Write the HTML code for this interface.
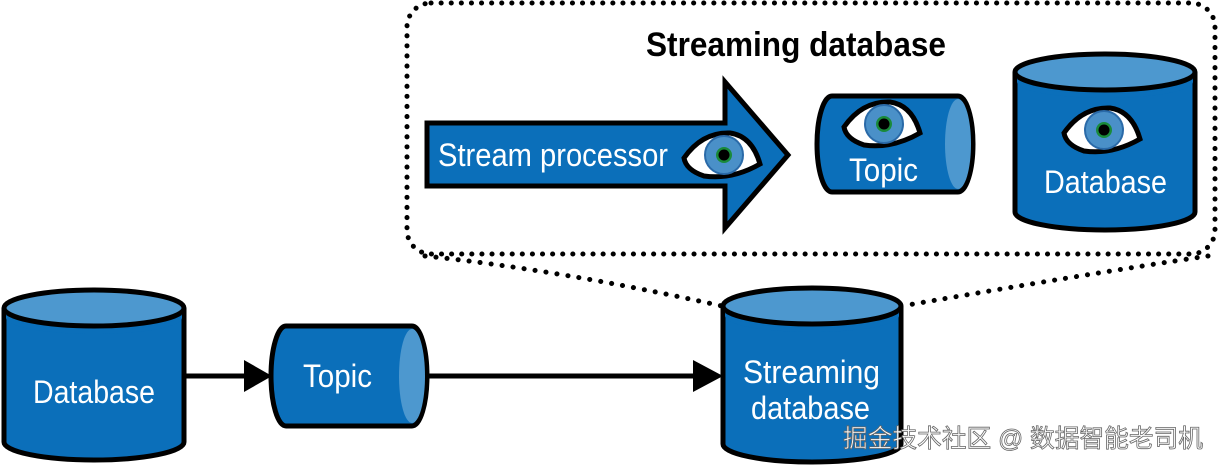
<!DOCTYPE html>
<html><head><meta charset="utf-8"><style>
html,body{margin:0;padding:0;background:#fff;}
svg{display:block;}
text{font-family:"Liberation Sans",sans-serif;}
</style></head><body>
<svg width="1219" height="467" viewBox="0 0 1219 467">
<defs>
<g id="eye">
<path d="M-38,2 Q-20,-24 8,-23 Q30,-20 38,8 Q10,24 -18,20 Q-36,14 -38,2Z" fill="#fff" stroke="#000" stroke-width="5"/>
<circle cx="2" cy="-1" r="19" fill="#4a90c8" stroke="#2a6aa8" stroke-width="2"/>
<circle cx="2" cy="-1" r="8" fill="#1a8a3a"/>
<circle cx="2" cy="-1" r="5.5" fill="#000"/>
</g>
</defs>
<!-- dotted box -->
<rect x="407" y="3" width="808" height="251" rx="24" fill="none" stroke="#000" stroke-width="5" stroke-linecap="round" stroke-dasharray="0.1 10"/>
<path d="M425,256 Q560,270 722,306" fill="none" stroke="#000" stroke-width="5" stroke-linecap="round" stroke-dasharray="0.1 11"/>
<path d="M1208,256 Q1080,275 902,306" fill="none" stroke="#000" stroke-width="5" stroke-linecap="round" stroke-dasharray="0.1 11"/>
<text x="646" y="56" textLength="300" lengthAdjust="spacingAndGlyphs" font-size="34" font-weight="bold">Streaming database</text>
<!-- stream processor arrow -->
<path d="M427,123 L725,123 L725,82 L788,155 L725,228 L725,186 L427,186Z" fill="#0b6fba" stroke="#000" stroke-width="5" stroke-linejoin="miter"/>
<text x="438" y="166" textLength="230" lengthAdjust="spacingAndGlyphs" font-size="32" fill="#fff">Stream processor</text>
<use href="#eye" x="722" y="156"/>
<!-- top topic -->
<path d="M832,96 L958,96 A15,48 0 0 1 958,192 L832,192 A15,48 0 0 1 832,96Z" fill="#0b6fba" stroke="#000" stroke-width="5"/>
<ellipse cx="958" cy="144" rx="13" ry="45" fill="#4d98cf"/>
<use href="#eye" x="882" y="125"/>
<text x="849" y="181" textLength="69" lengthAdjust="spacingAndGlyphs" font-size="32" fill="#fff">Topic</text>
<!-- top database -->
<path d="M1015,72 L1015,212 A90,18 0 0 0 1195,212 L1195,72" fill="#0b6fba" stroke="#000" stroke-width="5"/>
<ellipse cx="1105" cy="72" rx="90" ry="18" fill="#4d98cf" stroke="#000" stroke-width="5"/>
<path d="M1017,78 A88,16 0 0 0 1193,78 L1193,82 A88,16 0 0 1 1017,82Z" fill="#0b6fba"/>
<use href="#eye" x="1102" y="131"/>
<text x="1044" y="193" textLength="123" lengthAdjust="spacingAndGlyphs" font-size="32" fill="#fff">Database</text>
<!-- bottom left database -->
<path d="M4,308 L4,442 A90,18 0 0 0 184,442 L184,308" fill="#0b6fba" stroke="#000" stroke-width="5"/>
<ellipse cx="94" cy="308" rx="90" ry="18" fill="#4d98cf" stroke="#000" stroke-width="5"/>
<path d="M6,314 A88,16 0 0 0 182,314 L182,318 A88,16 0 0 1 6,318Z" fill="#0b6fba"/>
<text x="33" y="403" textLength="122" lengthAdjust="spacingAndGlyphs" font-size="32" fill="#fff">Database</text>
<!-- arrows -->
<line x1="184" y1="376" x2="248" y2="376" stroke="#000" stroke-width="5"/>
<path d="M244,360 L272,376 L244,392Z" fill="#000"/>
<line x1="427" y1="376" x2="697" y2="376" stroke="#000" stroke-width="5"/>
<path d="M693,360 L723,376 L693,392Z" fill="#000"/>
<!-- bottom topic -->
<path d="M286,326 L412,326 A15,50 0 0 1 412,426 L286,426 A15,50 0 0 1 286,326Z" fill="#0b6fba" stroke="#000" stroke-width="5"/>
<ellipse cx="412" cy="376" rx="13" ry="47" fill="#4d98cf"/>
<text x="303" y="387" textLength="69" lengthAdjust="spacingAndGlyphs" font-size="32" fill="#fff">Topic</text>
<!-- streaming database -->
<path d="M723,306 L723,444 A89,18 0 0 0 901,444 L901,306" fill="#0b6fba" stroke="#000" stroke-width="5"/>
<ellipse cx="812" cy="306" rx="89" ry="18" fill="#4d98cf" stroke="#000" stroke-width="5"/>
<path d="M725,312 A87,16 0 0 0 899,312 L899,316 A87,16 0 0 1 725,316Z" fill="#0b6fba"/>
<text x="743" y="383" textLength="137" lengthAdjust="spacingAndGlyphs" font-size="32" fill="#fff">Streaming</text>
<text x="751" y="419" textLength="119" lengthAdjust="spacingAndGlyphs" font-size="32" fill="#fff">database</text>
<text x="843" y="447" textLength="360" lengthAdjust="spacingAndGlyphs" font-size="25" fill="#fff" stroke="#666" stroke-width="0.8" style="font-family:'Liberation Sans','Noto Sans CJK SC',sans-serif">掘金技术社区 @ 数据智能老司机</text>
</svg>
</body></html>
